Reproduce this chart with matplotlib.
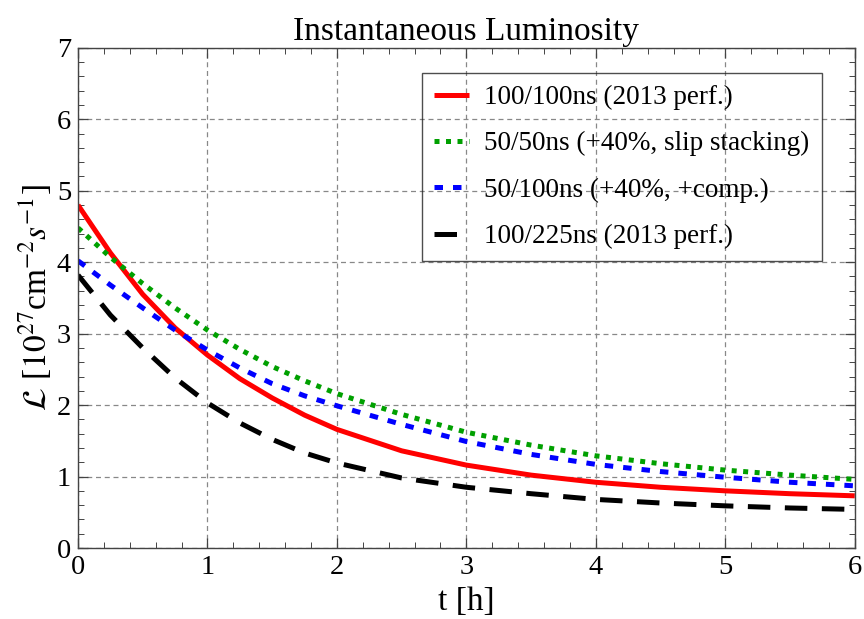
import matplotlib
matplotlib.use("Agg")
import matplotlib.pyplot as plt
from matplotlib.ticker import MultipleLocator

# values (t in hours, L in 1e27 cm^-2 s^-1)
t = [0, 0.25, 0.5, 0.75, 1, 1.25, 1.5, 1.75, 2, 2.5, 3, 3.5, 4, 4.5, 5, 5.5, 6]
lumi_100_100 = [4.80, 4.13, 3.55, 3.08, 2.70, 2.37, 2.10, 1.86, 1.66, 1.36, 1.16, 1.02, 0.92, 0.85, 0.80, 0.76, 0.73]
lumi_50_50 = [4.48, 4.07, 3.70, 3.36, 3.05, 2.78, 2.54, 2.34, 2.16, 1.87, 1.62, 1.44, 1.29, 1.18, 1.09, 1.02, 0.96]
lumi_50_100 = [4.02, 3.68, 3.36, 3.05, 2.77, 2.52, 2.30, 2.13, 1.99, 1.73, 1.49, 1.31, 1.17, 1.07, 0.99, 0.92, 0.87]
lumi_100_225 = [3.82, 3.26, 2.80, 2.38, 2.03, 1.75, 1.52, 1.33, 1.19, 0.98, 0.85, 0.76, 0.68, 0.63, 0.59, 0.56, 0.54]

labels = ["100/100ns (2013 perf.)",
          "50/50ns (+40%, slip stacking)",
          "50/100ns (+40%, +comp.)",
          "100/225ns (2013 perf.)"]

plt.rcParams['font.family'] = ['Liberation Serif', 'DejaVu Serif']
plt.rcParams['mathtext.fontset'] = 'stix'

fig = plt.figure(figsize=(8.64, 6.19), dpi=100)
ax = fig.add_axes([0.0903, 0.1147, 0.899, 0.808])

ax.plot(t, lumi_100_100, color='#ff0000', lw=3.6, solid_capstyle='butt', label=labels[0])
ax.plot(t, lumi_50_50, color='#00a000', lw=3.6, dashes=(1.0, 1.3), dash_capstyle='butt', label=labels[1])
ax.plot(t, lumi_50_100, color='#0000ff', lw=3.6, dashes=(1.7, 2.0), dash_capstyle='butt', label=labels[2])
ax.plot(t, lumi_100_225, color='#000000', lw=3.6, dashes=(4.5, 2.9), dash_capstyle='butt', label=labels[3])

ax.set_xlim(0, 6)
ax.set_ylim(0, 7)
ax.xaxis.set_major_locator(MultipleLocator(1))
ax.yaxis.set_major_locator(MultipleLocator(1))
ax.xaxis.set_minor_locator(MultipleLocator(0.2))
ax.yaxis.set_minor_locator(MultipleLocator(0.2))
ax.tick_params(which='both', direction='in', top=True, right=True, labelsize=20.5, color='#444444')
ax.tick_params(which='major', length=7, width=0.9)
ax.tick_params(which='minor', length=4, width=0.7)
ax.tick_params(axis='x', pad=5)
ax.tick_params(axis='y', pad=5)
ax.grid(True, which='major', color='#888888', linestyle=(0, (4, 3)), linewidth=0.9)
for s in ax.spines.values():
    s.set_color('#444444')
    s.set_linewidth(1.0)

ax.set_title("Instantaneous Luminosity", fontsize=24, pad=6)
ax.set_xlabel("t [h]", fontsize=24, labelpad=5)
ax.set_ylabel(r"$\mathcal{L}$ [$10^{27}$cm$^{-2}s^{-1}$]", fontsize=24, labelpad=2)

# legend box is see-through in the original, grid shows behind it
leg = ax.legend(loc='upper right', bbox_to_anchor=(0.9575, 0.95), borderaxespad=0, fontsize=19.5,
                frameon=True, fancybox=False, edgecolor='#222222', facecolor='none',
                handlelength=1.3, borderpad=0.45, labelspacing=0.78, handletextpad=0.55)
leg.get_frame().set_linewidth(1.0)

fig.savefig("out.png", dpi=100)
